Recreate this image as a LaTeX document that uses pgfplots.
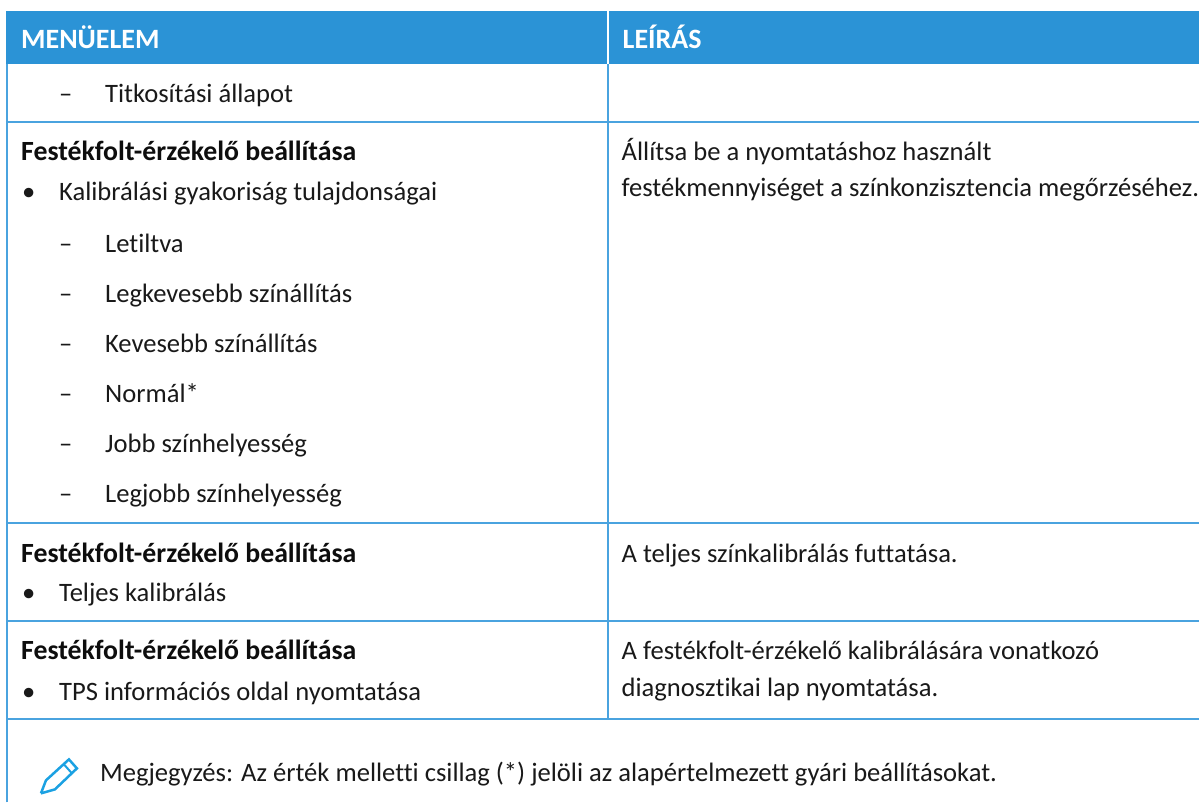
\documentclass[border=0pt]{standalone}
\usepackage{pgfplots}
\pgfplotsset{compat=1.18}
\usepackage{fontspec}
\setmainfont{Carlito}[Ligatures={NoCommon}]
\definecolor{hdr}{HTML}{2B93D6}
\definecolor{rule}{HTML}{4AA3DF}
\definecolor{pen}{HTML}{1BA1E2}
\newcommand{\T}[3]{\node[anchor=base west,inner sep=0pt,font=\fontsize{26.6}{26.6}\selectfont,text=black!90] at (axis cs:#1,#2) {#3};}
\newcommand{\B}[3]{\node[anchor=base west,inner sep=0pt,font=\fontsize{27.8}{27.8}\selectfont\bfseries,text=black!95] at (axis cs:#1,#2) {#3};}
\begin{document}
\begin{tikzpicture}[x=1pt,y=1pt]
\begin{axis}[width=1200pt,height=803pt,scale only axis,xmin=0,xmax=1200,ymin=0,ymax=803,y dir=reverse,
  axis lines=none,clip=false,enlargelimits=false]
\path (axis cs:0,0) -- (axis cs:1200,803);
\addplot[draw=none,fill=hdr] coordinates {(6,11) (1200,11) (1200,64) (6,64)} --cycle;
\addplot[white,line width=2pt] coordinates {(608,11) (608,64)};
\addplot[rule,line width=2pt] coordinates {(7,64) (7,720)};
\addplot[rule,line width=2pt] coordinates {(608,64) (608,720)};
\addplot[rule,line width=2pt] coordinates {(7,803) (7,720) (1200,720)};
\addplot[rule,line width=2pt] coordinates {(6,122) (1200,122)};
\addplot[rule,line width=2pt] coordinates {(6,523) (1200,523)};
\addplot[rule,line width=2pt] coordinates {(6,622) (1200,622)};
\node[anchor=base west,inner sep=0pt,font=\fontsize{28}{28}\selectfont\bfseries,text=white] at (axis cs:21,49) {MENÜELEM};
\node[anchor=base west,inner sep=0pt,font=\fontsize{28}{28}\selectfont\bfseries,text=white] at (axis cs:623,49) {LEÍRÁS};
\T{59}{103}{–} \T{105}{103}{Titkosítási állapot}
\B{21}{161}{Festékfolt-érzékelő beállítása}
\T{22}{201}{•} \T{59}{201}{Kalibrálási gyakoriság tulajdonságai}
\T{59}{253}{–} \T{105}{253}{Letiltva}
\T{59}{303}{–} \T{105}{303}{Legkevesebb színállítás}
\T{59}{353}{–} \T{105}{353}{Kevesebb színállítás}
\T{59}{403}{–} \T{105}{403}{Normál*}
\T{59}{453}{–} \T{105}{453}{Jobb színhelyesség}
\T{59}{503}{–} \T{105}{503}{Legjobb színhelyesség}
\B{21}{563}{Festékfolt-érzékelő beállítása}
\T{22}{602}{•} \T{59}{602}{Teljes kalibrálás}
\B{21}{660}{Festékfolt-érzékelő beállítása}
\T{22}{701}{•} \T{59}{701}{TPS információs oldal nyomtatása}
\T{622}{161}{Állítsa be a nyomtatáshoz használt}
\T{622}{197}{festékmennyiséget a színkonzisztencia megőrzéséhez.}
\T{622}{563}{A teljes színkalibrálás futtatása.}
\T{622}{660}{A festékfolt-érzékelő kalibrálására vonatkozó}
\T{622}{697}{diagnosztikai lap nyomtatása.}
\T{100}{782}{Megjegyzés: Az érték melletti csillag (*) jelöli az alapértelmezett gyári beállításokat.}
\addplot[pen,line width=2.5pt] coordinates {(41,794) (46,781) (69,760) (77,769) (55,790) (41,794)};
\addplot[pen,line width=2pt] coordinates {(64,765) (72,774)};
\end{axis}
\end{tikzpicture}
\end{document}
